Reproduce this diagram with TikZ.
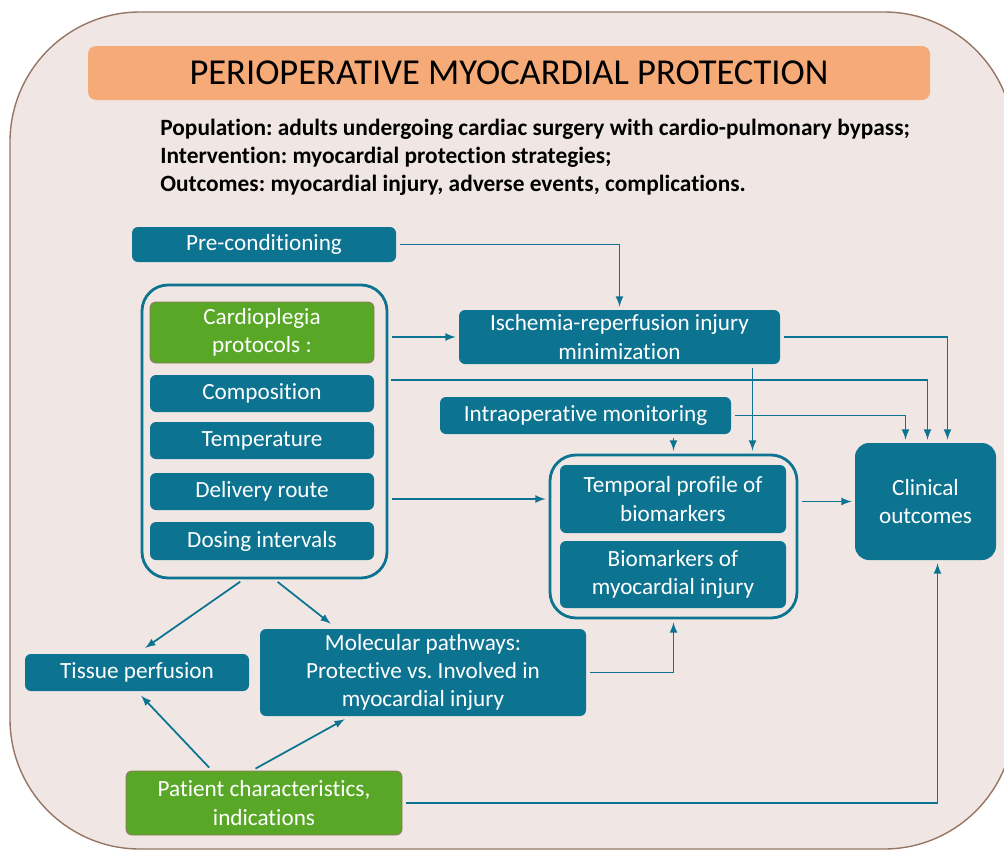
\documentclass[tikz,border=0pt]{standalone}
\usepackage{fontspec}
\setmainfont[Ligatures=NoCommon]{Carlito}
\usetikzlibrary{positioning,calc}
\definecolor{bleuboite}{RGB}{12,115,145}
\definecolor{vertboite}{RGB}{89,167,39}
\definecolor{fondcadre}{RGB}{240,231,228}
\definecolor{brunbord}{RGB}{150,118,100}
\definecolor{orangetitre}{RGB}{245,170,120}
\frenchspacing
\begin{document}
\begin{tikzpicture}[x=0.02cm,y=-0.02cm]
% Styles
\def\px{0.02cm}
\tikzstyle{boite}=[fill=bleuboite,text=white,rounded corners=6*\px,align=center,inner sep=0pt,font=\fontsize{13.2}{16}\selectfont]
\tikzstyle{boiteverte}=[boite,fill=vertboite,draw=brunbord,line width=0.5pt]
\tikzstyle{groupe}=[draw=bleuboite,line width=1.6pt,rounded corners=26*\px,inner sep=0pt]
\tikzstyle{fleche}=[->,>=latex,bleuboite,line width=1pt,shorten <=4*\px,shorten >=3*\px]
% Cadre de fond
\useasboundingbox (0,0) rectangle (1004,852);
\clip (0,0) rectangle (1004,852);
\draw[brunbord,fill=fondcadre,line width=0.8pt,rounded corners=130*\px] (10,12) rectangle (1014,849);
% Titre
\node[fill=orangetitre,rounded corners=8*\px,minimum width=842*\px,minimum height=54*\px,font=\fontsize{20.8}{24}\selectfont] (titre) at (509,73) {PERIOPERATIVE MYOCARDIAL PROTECTION};
\node[anchor=north west,align=left,inner sep=0pt,font=\bfseries\fontsize{13.3}{15.9}\selectfont] (pico) at (160,119) {Population: adults undergoing cardiac surgery with cardio-pulmonary bypass;\\Intervention: myocardial protection strategies;\\Outcomes: myocardial injury, adverse events, complications.};
% Groupes
\node[groupe,minimum width=245*\px,minimum height=293*\px] (cardgrp) at (264.5,431.5) {};
\node[groupe,minimum width=247*\px,minimum height=163*\px] (biogrp) at (673.5,536.5) {};
% Boites
\node[boite,minimum width=264*\px,minimum height=35*\px] (pre) at (264,244.5) {Pre-conditioning};
\node[boiteverte,minimum width=224*\px,minimum height=61*\px] (card) at (262,332.5) {Cardioplegia\\protocols :};
\node[boite,minimum width=224*\px,minimum height=37*\px] (comp) at (262,393.5) {Composition};
\node[boite,minimum width=224*\px,minimum height=37*\px] (temp) at (262,440.5) {Temperature};
\node[boite,minimum width=224*\px,minimum height=37*\px] (deliv) at (262,491.5) {Delivery route};
\node[boite,minimum width=224*\px,minimum height=38*\px] (dose) at (262,541) {Dosing intervals};
\node[boite,minimum width=321*\px,minimum height=54*\px] (isch) at (619.5,337) {Ischemia-reperfusion injury\\minimization};
\node[boite,minimum width=291*\px,minimum height=37*\px] (intra) at (585.5,415.5) {Intraoperative monitoring};
\node[boite,minimum width=226*\px,minimum height=68*\px] (tempo) at (673,499) {Temporal profile of\\biomarkers};
\node[boite,minimum width=226*\px,minimum height=67*\px] (biom) at (673,574.5) {Biomarkers of\\myocardial injury};
\node[boite,rounded corners=14*\px,minimum width=141*\px,minimum height=117*\px] (clin) at (925.5,501.5) {Clinical\\outcomes};
\node[boite,minimum width=326*\px,minimum height=87*\px] (mol) at (423,672.5) {Molecular pathways:\\Protective vs. Involved in\\myocardial injury};
\node[boite,minimum width=224*\px,minimum height=37*\px] (tissue) at (137,672.5) {Tissue perfusion};
\node[boiteverte,minimum width=276*\px,minimum height=64*\px] (patient) at (264,803) {Patient characteristics,\\indications};
% Fleches
\coordinate (c1) at (387,380);
\draw[fleche] (pre.east) -| (isch.north);
\draw[fleche] (cardgrp.east |- isch.west) -- (isch.west);
\draw[fleche] (c1) -| ([xshift=2*\px]clin.north);
\draw[fleche] (isch.east) -| ([xshift=22*\px]clin.north);
\draw[fleche] (intra.east) -| ([xshift=-20*\px]clin.north);
\draw[fleche] (intra.south -| biogrp.north) -- (biogrp.north);
\draw[fleche] ([xshift=133*\px]isch.south) -- ([xshift=133*\px]isch.south |- biogrp.north);
\draw[fleche] (cardgrp.east |- tempo.west) -- (tempo.west -| biogrp.west);
\draw[fleche] (biogrp.east |- clin.west) -- (clin.west);
\draw[fleche] (mol.east) -| (biogrp.south);
\draw[fleche,shorten >=10*\px] ([xshift=-21*\px]cardgrp.south) -- (tissue.north);
\draw[fleche,shorten >=8*\px] ([xshift=10*\px]cardgrp.south) -- ([xshift=-86*\px]mol.north);
\draw[fleche,shorten >=6*\px] ([xshift=-52*\px]patient.north) -- (tissue.south);
\draw[fleche,shorten >=6*\px] ([xshift=-12*\px]patient.north) -- ([xshift=-73*\px]mol.south);
\draw[fleche] (patient.east) -| ([xshift=12*\px]clin.south);
\end{tikzpicture}
\end{document}
